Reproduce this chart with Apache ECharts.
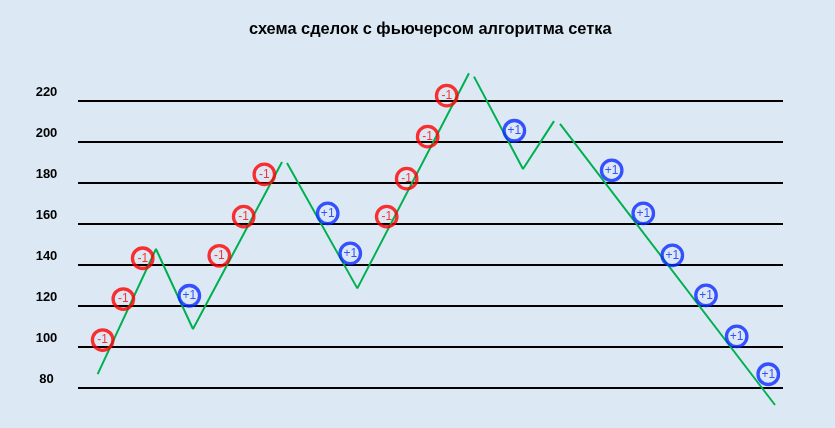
<!DOCTYPE html>
<html>
<head>
<meta charset="utf-8">
<script src="https://cdn.jsdelivr.net/npm/echarts@6/dist/echarts.min.js"></script>
<style>
html,body{margin:0;padding:0;background:#dce9f5;}
#chart{width:835px;height:428px;}
</style>
</head>
<body>
<div id="chart"></div>
<script>
// Price path (segments separated by small gaps at the turns)
const segment1X = [2.79, 11.06, 16.31, 28.94];
const segment1Y = [86.8, 147.8, 108.8, 190.2];
const segment2X = [29.65, 39.62, 55.46];
const segment2Y = [189.8, 128.6, 233.5];
const segment3X = [56.17, 63.12, 67.52];
const segment3Y = [231.9, 186.8, 210.2];
const segment4X = [68.37, 98.87];
const segment4Y = [208.8, 71.7];

// Sell (-1) trades
const sellX = [3.50, 6.43, 9.18, 20.04, 23.50, 26.43, 43.79, 46.62, 49.60, 52.30];
const sellY = [103.4, 123.4, 143.3, 144.5, 163.6, 184.2, 163.6, 182.1, 202.6, 222.6];
// Buy (+1) trades
const buyX = [15.79, 35.42, 38.62, 61.89, 75.70, 80.18, 84.30, 89.08, 93.43, 97.91];
const buyY = [125.0, 165.2, 145.7, 205.5, 186.2, 165.2, 144.7, 125.2, 105.2, 86.7];

const yTicks = [80, 100, 120, 140, 160, 180, 200, 220];
const titleText = 'схема сделок с фьючерсом алгоритма сетка';

const zip = (xs, ys) => xs.map((x, i) => [x, ys[i]]);
const segments = [[segment1X, segment1Y], [segment2X, segment2Y], [segment3X, segment3Y], [segment4X, segment4Y]];

const lineSeries = segments.map(([xs, ys]) => ({
  type: 'line',
  data: zip(xs, ys),
  showSymbol: false,
  clip: false,
  silent: true,
  lineStyle: { color: '#00b050', width: 2 },
  z: 2
}));

function tradeSeries(xs, ys, color, text) {
  return {
    type: 'scatter',
    data: zip(xs, ys),
    symbol: 'circle',
    symbolSize: 20.5,
    clip: false,
    itemStyle: { color: 'rgba(0,0,0,0)', borderColor: color, borderWidth: 3.3 },
    label: {
      show: true,
      position: 'inside',
      formatter: text,
      color: color,
      fontSize: 12,
      fontFamily: 'Liberation Sans'
    },
    z: 3
  };
}

const chart = echarts.init(document.getElementById('chart'), null, { renderer: 'canvas' });
chart.setOption({
  backgroundColor: '#dce9f5',
  animation: false,
  title: {
    text: titleText,
    left: 244,
    top: 16,
    textStyle: { fontFamily: 'Liberation Sans', fontWeight: 'bold', fontSize: 16.4, color: '#000' }
  },
  grid: { left: 78, right: 52, top: 101, bottom: 40 },
  xAxis: { type: 'value', min: 0, max: 100, show: false },
  yAxis: {
    type: 'value',
    min: yTicks[0],
    max: yTicks[yTicks.length - 1],
    interval: 20,
    axisLine: { show: false },
    axisTick: { show: false },
    splitLine: { show: true, lineStyle: { color: '#000', width: 2 } },
    axisLabel: {
      fontFamily: 'Liberation Sans',
      fontWeight: 'bold',
      fontSize: 13,
      color: '#000',
      align: 'center',
      verticalAlign: 'bottom',
      margin: 31.5,
      padding: [0, 0, 2, 0]
    }
  },
  series: [
    ...lineSeries,
    tradeSeries(sellX, sellY, '#ff0000', '-1'),
    tradeSeries(buyX, buyY, '#0a2bff', '+1')
  ]
});
</script>
</body>
</html>
